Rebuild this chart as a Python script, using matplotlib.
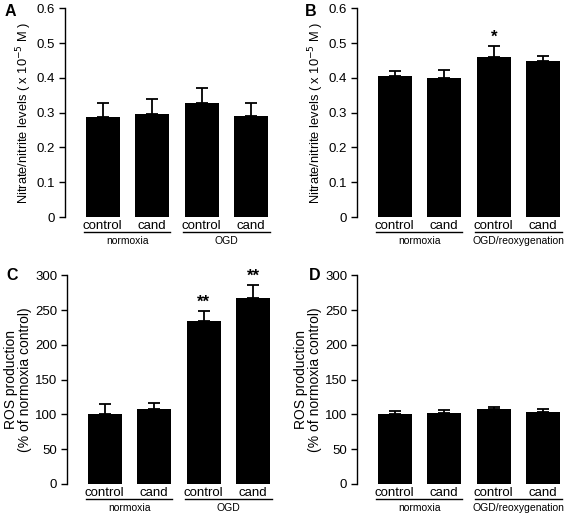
import matplotlib
matplotlib.use('Agg')
import matplotlib.pyplot as plt
import matplotlib.transforms as mtransforms

plt.rcParams['font.family'] = ['Liberation Sans', 'DejaVu Sans']

bar_labels = ['control', 'cand', 'control', 'cand']
groups_A = ['normoxia', 'OGD']
groups_B = ['normoxia', 'OGD/reoxygenation']

# panel A: nitrate/nitrite, OGD
no_A = [0.288, 0.297, 0.327, 0.291]
no_A_err = [0.040, 0.041, 0.044, 0.036]
# panel B: nitrate/nitrite, OGD/reoxygenation
no_B = [0.405, 0.400, 0.461, 0.448]
no_B_err = [0.015, 0.024, 0.031, 0.014]
# panel C: ROS, OGD
ros_C = [100.6, 107.3, 234.3, 266.9]
ros_C_err = [14.0, 9.7, 14.7, 19.6]
# panel D: ROS, OGD/reoxygenation
ros_D = [101.0, 102.0, 107.3, 103.5]
ros_D_err = [3.5, 5.0, 3.7, 4.3]

stars_B = ['', '', '*', '']
stars_C = ['', '', '**', '**']

W, H = 568, 514
fig = plt.figure(figsize=(W / 100, H / 100), dpi=100)


def panel(left, bottom_px, vals, errs, ymax, yticks, ticklabels, ylabel, ylabel_size,
          groups, letter, letter_xy, stars):
    ax = fig.add_axes([left / W, (H - bottom_px) / H, 209 / W, 208.7 / H])
    x = range(len(vals))
    ax.bar(x, vals, width=0.69, color='black')
    ax.errorbar(x, vals, yerr=[[0] * len(errs), errs], fmt='none', ecolor='black',
                elinewidth=1.3, capsize=4.3, capthick=1.3)
    ax.set_xlim(-0.76, 3.46)
    ax.set_ylim(0, ymax)
    ax.set_yticks(yticks)
    ax.set_yticklabels(ticklabels, fontsize=9.5)
    ax.set_xticks(list(x))
    ax.set_xticklabels(bar_labels, fontsize=9.5)
    ax.tick_params(axis='x', length=0, pad=2)
    ax.tick_params(axis='y', length=4, width=1, pad=3)
    for s in ['top', 'right', 'bottom']:
        ax.spines[s].set_visible(False)
    ax.spines['left'].set_linewidth(1)
    ax.set_ylabel(ylabel, fontsize=ylabel_size, labelpad=2, linespacing=1.05)
    tr = mtransforms.blended_transform_factory(ax.transData, ax.transAxes)
    for g, name in enumerate(groups):
        s = 2 * g
        ax.plot([s - 0.37, s + 1.37], [-0.072, -0.072], color='black', lw=1,
                transform=tr, clip_on=False)
        ax.text(s + 0.5, -0.09, name, transform=tr, ha='center', va='top', fontsize=7.5)
    for i, st in enumerate(stars):
        if st:
            ax.text(i, vals[i] + errs[i] + ymax * 0.003, st, ha='center', va='bottom',
                    fontsize=12, fontweight='bold')
    fig.text(letter_xy[0] / W, 1 - letter_xy[1] / H, letter, fontsize=11.5,
             fontweight='bold', ha='center', va='center')
    return ax


no_ticks = [0, 0.1, 0.2, 0.3, 0.4, 0.5, 0.6]
no_ticklabels = ['0', '0.1', '0.2', '0.3', '0.4', '0.5', '0.6']
ros_ticks = [0, 50, 100, 150, 200, 250, 300]
ros_ticklabels = [str(t) for t in ros_ticks]
no_label = 'Nitrate/nitrite levels ( x 10$^{-5}$ M )'
ros_label = 'ROS production\n(% of normoxia control)'

panel(65, 217, no_A, no_A_err, 0.6, no_ticks, no_ticklabels, no_label, 9.3,
      groups_A, 'A', (10, 12), ['', '', '', ''])
panel(357, 217, no_B, no_B_err, 0.6, no_ticks, no_ticklabels, no_label, 9.3,
      groups_B, 'B', (311, 12), stars_B)
panel(67, 484, ros_C, ros_C_err, 300, ros_ticks, ros_ticklabels, ros_label, 10,
      groups_A, 'C', (12, 275), stars_C)
panel(357, 484, ros_D, ros_D_err, 300, ros_ticks, ros_ticklabels, ros_label, 10,
      groups_B, 'D', (315, 275), ['', '', '', ''])

fig.savefig('out.png', dpi=100)
